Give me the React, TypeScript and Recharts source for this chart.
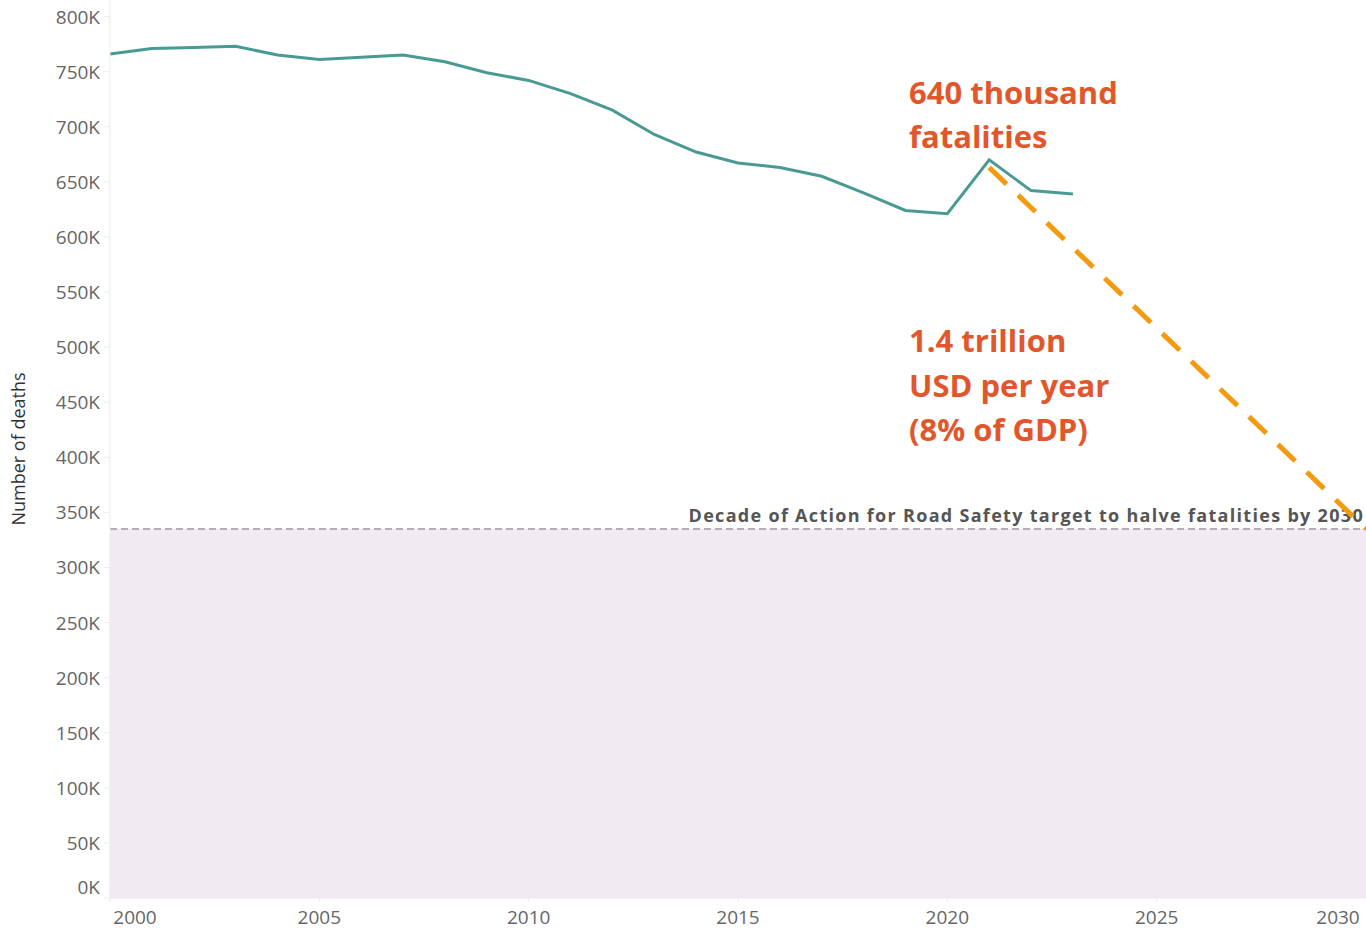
import { LineChart, Line, XAxis, YAxis, ReferenceArea, ReferenceLine } from "recharts";

const years = [
  2000, 2001, 2002, 2003, 2004, 2005, 2006, 2007, 2008, 2009, 2010, 2011,
  2012, 2013, 2014, 2015, 2016, 2017, 2018, 2019, 2020, 2021, 2022, 2023,
];
const deaths = [
  766000, 771000, 772000, 773000, 765000, 761000, 763000, 765000, 759000, 749000, 742000, 730000,
  715000, 693000, 677000, 667000, 663000, 655000, 640000, 624000, 621000, 670000, 642000, 639000,
];
const targetYears = [2021, 2030];
const targetValues = [663000, 335000];
const halvingTarget = 335000;

const xTicks = [2000, 2005, 2010, 2015, 2020, 2025, 2030];
const yTicks = [0, 50000, 100000, 150000, 200000, 250000, 300000, 350000, 400000, 450000, 500000, 550000, 600000, 650000, 700000, 750000, 800000];

const allYears = Array.from(new Set([...years, ...targetYears])).sort((a, b) => a - b);
const data = allYears.map((y) => {
  const i = years.indexOf(y);
  const j = targetYears.indexOf(y);
  return {
    year: y,
    deaths: i >= 0 ? deaths[i] : undefined,
    target: j >= 0 ? targetValues[j] : undefined,
  };
});

const FONT = "'Open Sans', Lato, sans-serif";
const ORANGE_TEXT = "#e1572b";

const XTick = (props: any) => {
  const { x, y, payload } = props;
  const first = payload.value === xTicks[0];
  const last = payload.value === xTicks[xTicks.length - 1];
  // edge labels pulled inside the plot like the original
  return (
    <text
      x={first ? x + 25 : last ? x - 12 : x}
      y={y + 20}
      textAnchor="middle"
      fill="#666"
      fontSize={19}
      fontFamily={FONT}
    >
      {payload.value}
    </text>
  );
};

const YTick = (props: any) => {
  const { x, y, payload } = props;
  return (
    <text
      x={x - 2}
      y={payload.value === 0 ? y - 4 : y + 7}
      textAnchor="end"
      fill="#666"
      fontSize={19}
      fontFamily={FONT}
    >
      {payload.value / 1000}K
    </text>
  );
};

const TargetLabel = (props: any) => {
  const { viewBox } = props;
  return (
    <text
      x={viewBox.x + viewBox.width - 2}
      y={viewBox.y - 7}
      textAnchor="end"
      fill="#555"
      fontSize={18}
      fontWeight={700}
      letterSpacing={1.3}
      fontFamily={FONT}
    >
      Decade of Action for Road Safety target to halve fatalities by 2030
    </text>
  );
};

const App = () => {
  return (
    <div style={{ position: "absolute", left: 0, top: 0, width: 1366, height: 930, overflow: "hidden", background: "#fff" }}>
      <style>{`html,body{margin:0;padding:0;overflow:hidden}`}</style>
      <LineChart width={1366} height={930} data={data} margin={{ top: 0, right: 0, left: 0, bottom: 0 }}>
        <ReferenceArea y1={0} y2={halvingTarget} fill="#f1eaf3" fillOpacity={1} stroke="none" ifOverflow="hidden" />
        <XAxis
          dataKey="year"
          type="number"
          domain={[2000, 2030]}
          ticks={xTicks}
          height={32}
          axisLine={{ stroke: "#ececec" }}
          tickLine={{ stroke: "#ececec" }}
          tickSize={4}
          tick={<XTick />}
        />
        <YAxis
          type="number"
          domain={[0, 815000]}
          ticks={yTicks}
          width={110}
          axisLine={{ stroke: "#ececec" }}
          tickLine={{ stroke: "#ececec" }}
          tickSize={6}
          tick={<YTick />}
          label={{
            value: "Number of deaths",
            angle: -90,
            position: "insideLeft",
            offset: 19,
            style: { fill: "#333", fontSize: 18, fontFamily: FONT, textAnchor: "middle" },
          }}
        />
        <ReferenceLine
          y={halvingTarget}
          stroke="#b5adb1"
          strokeWidth={2}
          strokeDasharray="7 4"
          label={<TargetLabel />}
        />
        <Line
          type="linear"
          dataKey="deaths"
          stroke="#4a9a94"
          strokeWidth={3}
          dot={false}
          connectNulls
          isAnimationActive={false}
        />
        <Line
          type="linear"
          dataKey="target"
          stroke="#f39a0e"
          strokeWidth={5}
          strokeDasharray="24 16"
          dot={false}
          connectNulls
          isAnimationActive={false}
        />
      </LineChart>
      <svg width={1366} height={930} style={{ position: "absolute", left: 0, top: 0, pointerEvents: "none" }}>
        <g fill={ORANGE_TEXT} fontFamily={FONT} fontWeight={700} fontSize={31}>
          <text x={909} y={104}>640 thousand</text>
          <text x={909} y={148}>fatalities</text>
          <text x={909} y={352}>1.4 trillion</text>
          <text x={909} y={397}>USD per year</text>
          <text x={909} y={441}>(8% of GDP)</text>
        </g>
      </svg>
    </div>
  );
};

export default App;
